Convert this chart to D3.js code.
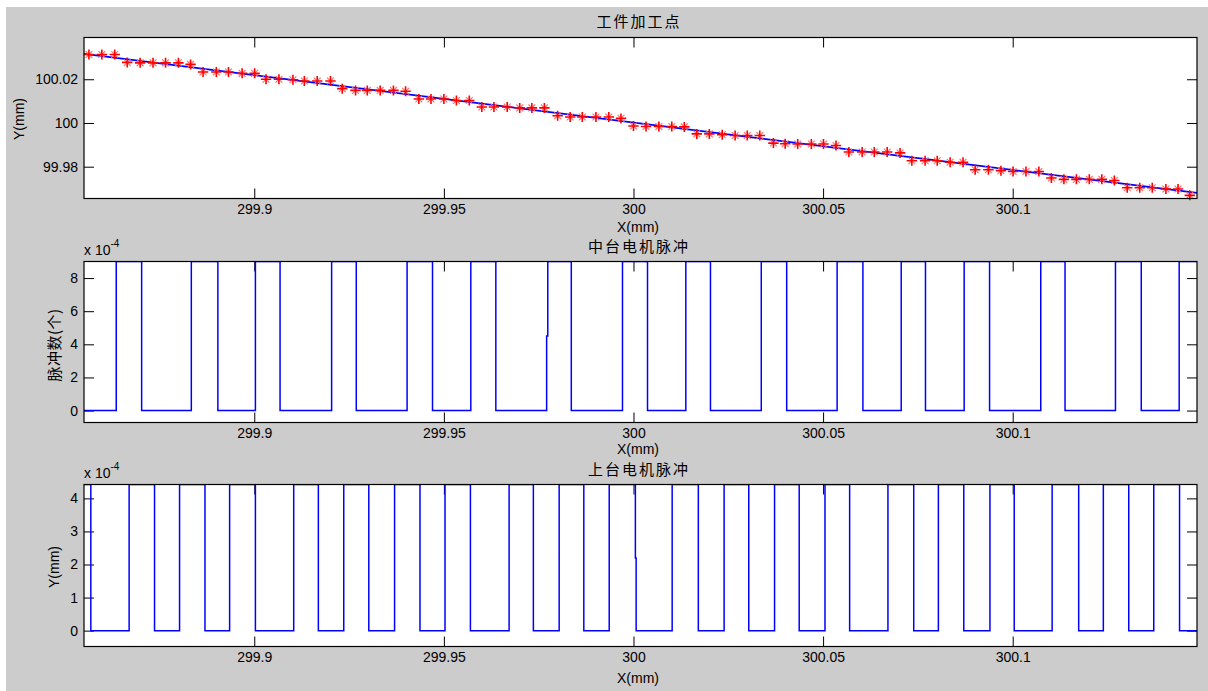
<!DOCTYPE html>
<html><head><meta charset="utf-8">
<script src="https://cdn.jsdelivr.net/npm/d3@7"></script>
<style>body{margin:0;background:#fff}</style>
</head><body><script>
// ---------------- data ----------------
const xDomain = [299.8551, 300.1486];
const xTickValues = [299.9, 299.95, 300, 300.05, 300.1];
const xTickLabels = ["299.9", "299.95", "300", "300.05", "300.1"];
const xAxisLabel = "X(mm)";
const titles = ["工件加工点", "中台电机脉冲", "上台电机脉冲"];
const yAxisLabels = ["Y(mm)", "脉冲数(个)", "Y(mm)"];

// panel 1: machining points (red *) and path (blue line)
const pointX = [
 299.8564, 299.8598, 299.8632, 299.8665, 299.8699, 299.8733, 299.8766, 299.8800, 299.8832, 299.8865,
 299.8900, 299.8932, 299.8968, 299.9001, 299.9031, 299.9065, 299.9102, 299.9132, 299.9166, 299.9201,
 299.9232, 299.9267, 299.9298, 299.9332, 299.9367, 299.9399, 299.9434, 299.9466, 299.9500, 299.9533,
 299.9567, 299.9600, 299.9632, 299.9667, 299.9700, 299.9732, 299.9765, 299.9800, 299.9833, 299.9865,
 299.9901, 299.9935, 299.9967, 300.0000, 300.0033, 300.0067, 300.0101, 300.0134, 300.0167, 300.0200,
 300.0234, 300.0268, 300.0300, 300.0333, 300.0369, 300.0400, 300.0433, 300.0469, 300.0501, 300.0534,
 300.0568, 300.0603, 300.0635, 300.0669, 300.0703, 300.0734, 300.0769, 300.0801, 300.0835, 300.0869,
 300.0901, 300.0936, 300.0969, 300.1001, 300.1035, 300.1069, 300.1102, 300.1135, 300.1168, 300.1202,
 300.1235, 300.1268, 300.1302, 300.1335, 300.1368, 300.1404, 300.1436, 300.1467];
const pointY = [
 100.0313, 100.0313, 100.0313, 100.0277, 100.0275, 100.0275, 100.0275, 100.0275, 100.0268, 100.0233,
 100.0233, 100.0233, 100.0227, 100.0227, 100.0200, 100.0200, 100.0198, 100.0192, 100.0192, 100.0192,
 100.0157, 100.0149, 100.0149, 100.0149, 100.0149, 100.0145, 100.0110, 100.0110, 100.0110, 100.0103,
 100.0103, 100.0073, 100.0073, 100.0073, 100.0069, 100.0069, 100.0069, 100.0033, 100.0027, 100.0027,
 100.0027, 100.0027, 100.0021, 99.9986, 99.9984, 99.9984, 99.9984, 99.9982, 99.9950, 99.9950,
 99.9946, 99.9943, 99.9943, 99.9943, 99.9908, 99.9905, 99.9904, 99.9904, 99.9904, 99.9897,
 99.9867, 99.9867, 99.9867, 99.9867, 99.9863, 99.9827, 99.9827, 99.9827, 99.9820, 99.9820,
 99.9786, 99.9786, 99.9782, 99.9778, 99.9778, 99.9778, 99.9748, 99.9742, 99.9742, 99.9742,
 99.9742, 99.9737, 99.9704, 99.9704, 99.9704, 99.9698, 99.9698, 99.9669];
const pathX = [299.8551, 300.1486];
const pathY = [100.0316, 99.9680];
const topYTicks = [99.98, 100, 100.02];
const topYTickLabels = ["99.98", "100", "100.02"];

// panel 2: middle-table motor pulses (stairs: level starting at each x)
const midStepX = [299.8551, 299.8636, 299.8703, 299.8834, 299.8904, 299.9003, 299.9068, 299.9204,
 299.9269, 299.9403, 299.9470, 299.9571, 299.9637, 299.9771, 299.9774, 299.9836, 299.9971, 300.0037,
 300.0138, 300.0203, 300.0337, 300.0404, 300.0537, 300.0605, 300.0706, 300.0770, 300.0872, 300.0939,
 300.1074, 300.1138, 300.1271, 300.1339, 300.1439, 300.1486];
const midStepY = [0, 9e-4, 0, 9e-4, 0, 9e-4, 0, 9e-4,
 0, 9e-4, 0, 9e-4, 0, 4.5e-4, 9e-4, 0, 9e-4, 0,
 9e-4, 0, 9e-4, 0, 9e-4, 0, 9e-4, 0, 9e-4, 0,
 9e-4, 0, 9e-4, 0, 9e-4, 9e-4];
const midYTicks = [0, 2e-4, 4e-4, 6e-4, 8e-4];
const midYTickLabels = ["0", "2", "4", "6", "8"];

// panel 3: upper-table motor pulses
const lowStepX = [299.8551, 299.8569, 299.8670, 299.8737, 299.8803, 299.8870, 299.8935, 299.9003,
 299.9104, 299.9169, 299.9236, 299.9302, 299.9370, 299.9437, 299.9503, 299.9570, 299.9672, 299.9736,
 299.9804, 299.9869, 299.9936, 300.0005, 300.0007, 300.0102, 300.0171, 300.0239, 300.0304, 300.0372,
 300.0437, 300.0505, 300.0570, 300.0671, 300.0739, 300.0804, 300.0871, 300.0940, 300.1004, 300.1104,
 300.1174, 300.1239, 300.1306, 300.1372, 300.1440, 300.1486];
const lowStepY = [4.42e-4, 0, 4.42e-4, 0, 4.42e-4, 0, 4.42e-4, 0,
 4.42e-4, 0, 4.42e-4, 0, 4.42e-4, 0, 4.42e-4, 0, 4.42e-4, 0,
 4.42e-4, 0, 4.42e-4, 2.2e-4, 0, 4.42e-4, 0, 4.42e-4, 0, 4.42e-4,
 0, 4.42e-4, 0, 4.42e-4, 0, 4.42e-4, 0, 4.42e-4, 0, 4.42e-4,
 0, 4.42e-4, 0, 4.42e-4, 0, 0];
const lowYTicks = [0, 1e-4, 2e-4, 3e-4, 4e-4];
const lowYTickLabels = ["0", "1", "2", "3", "4"];
const exponentBase = "x 10";
const exponentPower = "-4";

// ---------------- layout ----------------
const W = 1208, H = 691;
const FONT = "'Liberation Sans', Arial, Helvetica, sans-serif";
const CJK = "'Noto Sans CJK SC', 'Liberation Sans', sans-serif";
const boxL = 84, boxR = 1197;
const blue = "#0000ff", red = "#ff0000";

const svg = d3.select("body").append("svg")
  .attr("width", W).attr("height", H).style("display", "block");
svg.append("rect").attr("width", W).attr("height", H).attr("fill", "#fff");
svg.append("rect").attr("x", 6).attr("y", 7).attr("width", W - 6).attr("height", H - 7).attr("fill", "#cccccc");

const panels = [
  { top: 37.5, bottom: 198.5, yDomain: [99.96545, 100.0391], yTicks: topYTicks, yTickLabels: topYTickLabels,
    titleY: 20, xlabelY: 232, ylabelX: 19, ylabelY: 119, exp: null, kind: "points" },
  { top: 261.5, bottom: 422.5, yDomain: [-0.72e-4, 9e-4], yTicks: midYTicks, yTickLabels: midYTickLabels,
    titleY: 245, xlabelY: 454, ylabelX: 53, ylabelY: 345, exp: 255, kind: "mid" },
  { top: 484.5, bottom: 646.5, yDomain: [-0.48e-4, 4.42e-4], yTicks: lowYTicks, yTickLabels: lowYTickLabels,
    titleY: 468, xlabelY: 683, ylabelX: 53.5, ylabelY: 567, exp: 478, kind: "low" }
];

const plusPath = "M-5.2,0H5.2M0,-5V5";
const crossPath = "M-3.4,-3.4L3.4,3.4M-3.4,3.4L3.4,-3.4";

panels.forEach((p, i) => {
  const x = d3.scaleLinear().domain(xDomain).range([boxL, boxR]);
  const y = d3.scaleLinear().domain(p.yDomain).range([p.bottom, p.top]);
  const g = svg.append("g");
  g.append("rect").attr("x", boxL).attr("y", p.top)
    .attr("width", boxR - boxL).attr("height", p.bottom - p.top).attr("fill", "#fff");

  const clipId = "clip" + i;
  svg.append("clipPath").attr("id", clipId).append("rect")
    .attr("x", boxL).attr("y", p.top).attr("width", boxR - boxL).attr("height", p.bottom - p.top);

  const styleAxis = sel => {
    sel.select(".domain").remove();
    sel.attr("font-family", FONT).attr("font-size", 14);
    sel.selectAll(".tick line").attr("stroke", "#000").attr("stroke-width", 1);
    sel.selectAll(".tick text").attr("fill", "#000");
  };
  g.append("g").attr("transform", `translate(0,${p.bottom})`)
    .call(d3.axisBottom(x).tickValues(xTickValues).tickFormat((d, j) => xTickLabels[j])
      .tickSizeInner(-10).tickSizeOuter(0).tickPadding(6)).call(styleAxis);
  g.append("g").attr("transform", `translate(0,${p.top})`)
    .call(d3.axisTop(x).tickValues(xTickValues).tickFormat("")
      .tickSizeInner(-10).tickSizeOuter(0)).call(styleAxis);
  g.append("g").attr("transform", `translate(${boxL},0)`)
    .call(d3.axisLeft(y).tickValues(p.yTicks).tickFormat((d, j) => p.yTickLabels[j])
      .tickSizeInner(-10).tickSizeOuter(0).tickPadding(6)).call(styleAxis);
  g.append("g").attr("transform", `translate(${boxR},0)`)
    .call(d3.axisRight(y).tickValues(p.yTicks).tickFormat("")
      .tickSizeInner(-10).tickSizeOuter(0)).call(styleAxis);

  if (p.kind === "points") {
    const line = d3.line().x(d => x(d[0])).y(d => y(d[1]));
    g.append("path").datum(d3.zip(pathX, pathY)).attr("d", line)
      .attr("fill", "none").attr("stroke", blue).attr("stroke-width", 1.8)
      .attr("clip-path", `url(#${clipId})`);
    const m = g.append("g").selectAll("g").data(d3.zip(pointX, pointY)).join("g")
      .attr("transform", d => `translate(${x(d[0])},${y(d[1])})`);
    m.append("path").attr("d", crossPath).attr("fill", "none")
      .attr("stroke", "#ff6a6a").attr("stroke-width", 1.1);
    m.append("path").attr("d", plusPath).attr("fill", "none")
      .attr("stroke", red).attr("stroke-width", 1.6);
  } else {
    const xs = p.kind === "mid" ? midStepX : lowStepX;
    const ys = p.kind === "mid" ? midStepY : lowStepY;
    const line = d3.line().curve(d3.curveStepAfter).x(d => x(d[0])).y(d => y(d[1]));
    g.append("path").datum(d3.zip(xs, ys)).attr("d", line)
      .attr("fill", "none").attr("stroke", blue).attr("stroke-width", 1.5)
      .attr("clip-path", `url(#${clipId})`);
  }

  g.append("rect").attr("x", boxL).attr("y", p.top)
    .attr("width", boxR - boxL).attr("height", p.bottom - p.top)
    .attr("fill", "none").attr("stroke", "#000").attr("stroke-width", 1.2);

  g.append("text").attr("x", 638).attr("y", p.xlabelY)
    .attr("text-anchor", "middle").attr("font-family", FONT).attr("font-size", 14)
    .text(xAxisLabel);
  g.append("text")
    .attr("transform", `translate(${p.ylabelX},${p.ylabelY}) rotate(-90)`)
    .attr("text-anchor", "middle").attr("dominant-baseline", "central")
    .attr("font-family", i === 1 ? CJK : FONT).attr("font-size", i === 1 ? 15 : 14)
    .attr("letter-spacing", i === 1 ? 0.5 : 0)
    .text(yAxisLabels[i]);
  if (p.exp !== null) {
    const t = g.append("text").attr("x", boxL).attr("y", p.exp)
      .attr("font-family", FONT).attr("font-size", 14);
    t.append("tspan").text(exponentBase);
    t.append("tspan").attr("dy", -8).attr("font-size", 10).text(exponentPower);
  }
});

panels.forEach((p, i) => {
  svg.append("text").attr("x", 639).attr("y", p.titleY)
    .attr("text-anchor", "middle").attr("dominant-baseline", "central")
    .attr("font-family", CJK).attr("font-size", 15).attr("letter-spacing", 2)
    .text(titles[i]);
});
</script></body></html>
